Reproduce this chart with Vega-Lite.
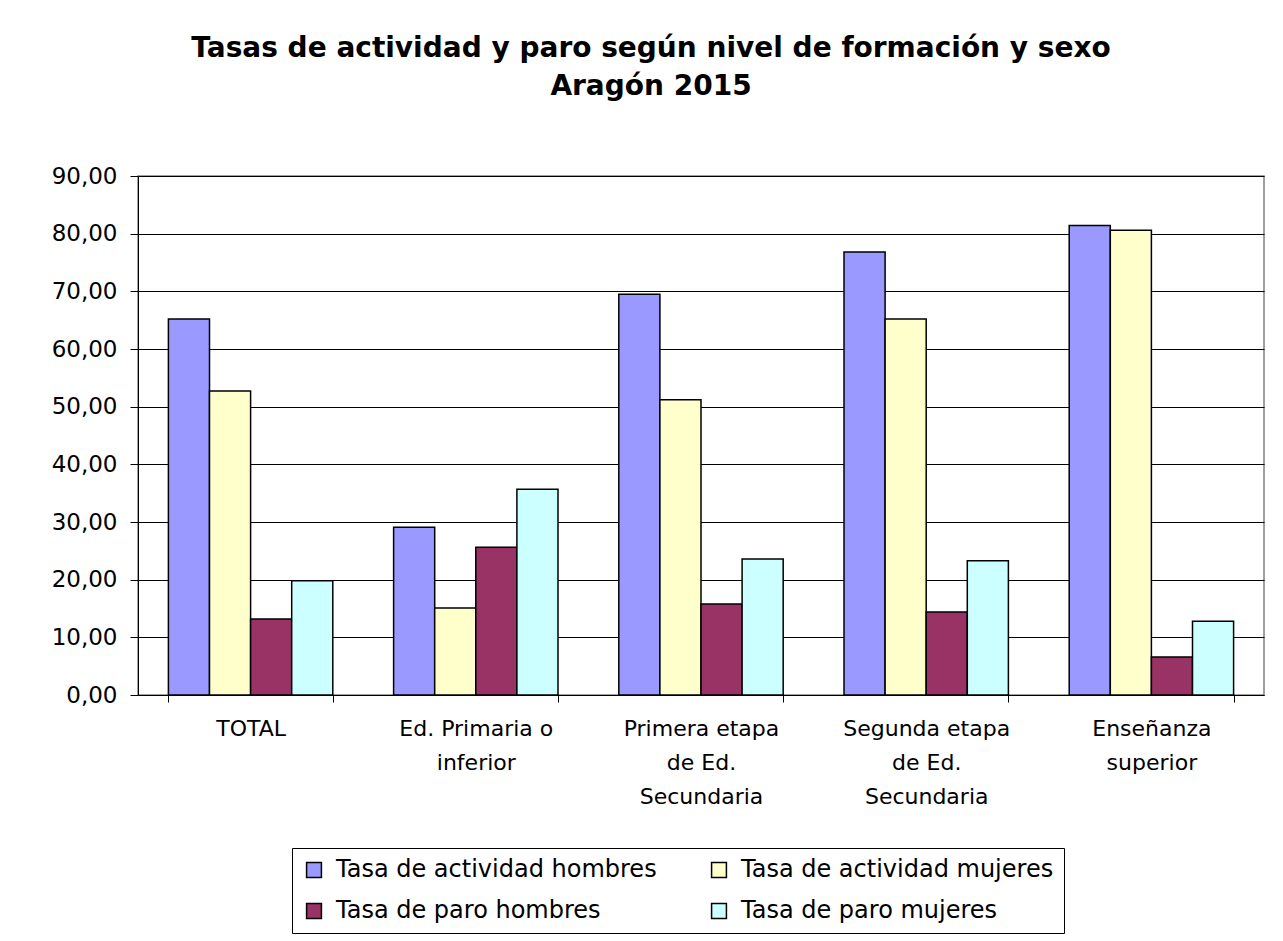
{
  "$schema": "https://vega.github.io/schema/vega-lite/v6.json",
  "autosize": "none",
  "width": 1126,
  "height": 519,
  "padding": {"left": 138, "top": 176, "right": 19, "bottom": 246},
  "background": "white",
  "title": {
    "text": ["Tasas de actividad y paro según nivel de formación y sexo", "Aragón 2015"],
    "font": "DejaVu Sans",
    "fontSize": 28,
    "fontWeight": "bold",
    "color": "black",
    "lineHeight": 38,
    "anchor": "middle",
    "dx": -50,
    "offset": 64
  },
  "data": {
    "values": [
      {"nivel": "TOTAL", "serie": "Tasa de actividad hombres", "valor": 65.2},
      {"nivel": "TOTAL", "serie": "Tasa de actividad mujeres", "valor": 52.7},
      {"nivel": "TOTAL", "serie": "Tasa de paro hombres", "valor": 13.2},
      {"nivel": "TOTAL", "serie": "Tasa de paro mujeres", "valor": 19.8},
      {"nivel": "Ed. Primaria o inferior", "serie": "Tasa de actividad hombres", "valor": 29.1},
      {"nivel": "Ed. Primaria o inferior", "serie": "Tasa de actividad mujeres", "valor": 15.1},
      {"nivel": "Ed. Primaria o inferior", "serie": "Tasa de paro hombres", "valor": 25.6},
      {"nivel": "Ed. Primaria o inferior", "serie": "Tasa de paro mujeres", "valor": 35.7},
      {"nivel": "Primera etapa de Ed. Secundaria", "serie": "Tasa de actividad hombres", "valor": 69.5},
      {"nivel": "Primera etapa de Ed. Secundaria", "serie": "Tasa de actividad mujeres", "valor": 51.2},
      {"nivel": "Primera etapa de Ed. Secundaria", "serie": "Tasa de paro hombres", "valor": 15.8},
      {"nivel": "Primera etapa de Ed. Secundaria", "serie": "Tasa de paro mujeres", "valor": 23.6},
      {"nivel": "Segunda etapa de Ed. Secundaria", "serie": "Tasa de actividad hombres", "valor": 76.8},
      {"nivel": "Segunda etapa de Ed. Secundaria", "serie": "Tasa de actividad mujeres", "valor": 65.2},
      {"nivel": "Segunda etapa de Ed. Secundaria", "serie": "Tasa de paro hombres", "valor": 14.4},
      {"nivel": "Segunda etapa de Ed. Secundaria", "serie": "Tasa de paro mujeres", "valor": 23.3},
      {"nivel": "Enseñanza superior", "serie": "Tasa de actividad hombres", "valor": 81.4},
      {"nivel": "Enseñanza superior", "serie": "Tasa de actividad mujeres", "valor": 80.6},
      {"nivel": "Enseñanza superior", "serie": "Tasa de paro hombres", "valor": 6.6},
      {"nivel": "Enseñanza superior", "serie": "Tasa de paro mujeres", "valor": 12.8}
    ]
  },
  "mark": {"type": "bar", "stroke": "black", "strokeWidth": 1.5},
  "encoding": {
    "x": {
      "field": "nivel",
      "type": "nominal",
      "sort": null,
      "title": null,
      "scale": {"paddingInner": 0.27, "paddingOuter": 0.135},
      "axis": {
        "labelAngle": 0,
        "labelFont": "DejaVu Sans",
        "labelFontSize": 22,
        "labelColor": "black",
        "labelLineHeight": 34,
        "labelPadding": 16,
        "tickSize": 7,
        "tickColor": "black",
        "domainColor": "black",
        "tickBand": "extent",
        "labelExpr": "datum.value == 'Ed. Primaria o inferior' ? ['Ed. Primaria o', 'inferior'] : datum.value == 'Primera etapa de Ed. Secundaria' ? ['Primera etapa', 'de Ed.', 'Secundaria'] : datum.value == 'Segunda etapa de Ed. Secundaria' ? ['Segunda etapa', 'de Ed.', 'Secundaria'] : datum.value == 'Enseñanza superior' ? ['Enseñanza', 'superior'] : datum.value"
      }
    },
    "xOffset": {
      "field": "serie",
      "type": "nominal",
      "sort": ["Tasa de actividad hombres", "Tasa de actividad mujeres", "Tasa de paro hombres", "Tasa de paro mujeres"],
      "scale": {"paddingInner": 0, "paddingOuter": 0}
    },
    "y": {
      "field": "valor",
      "type": "quantitative",
      "title": null,
      "scale": {"domain": [0, 90]},
      "axis": {
        "values": [0, 10, 20, 30, 40, 50, 60, 70, 80, 90],
        "format": ".2f",
        "labelExpr": "replace(datum.label, '.', ',')",
        "labelFont": "DejaVu Sans",
        "labelFontSize": 23,
        "labelColor": "black",
        "labelPadding": 13,
        "tickSize": 8,
        "tickColor": "black",
        "domainColor": "black",
        "grid": true,
        "gridColor": "black",
        "gridWidth": 1
      }
    },
    "color": {
      "field": "serie",
      "type": "nominal",
      "sort": ["Tasa de actividad hombres", "Tasa de actividad mujeres", "Tasa de paro hombres", "Tasa de paro mujeres"],
      "scale": {
        "domain": ["Tasa de actividad hombres", "Tasa de actividad mujeres", "Tasa de paro hombres", "Tasa de paro mujeres"],
        "range": ["#9999FF", "#FFFFCC", "#993366", "#CCFFFF"]
      },
      "legend": {
        "title": null,
        "orient": "none",
        "legendX": 154,
        "legendY": 672,
        "columns": 2,
        "direction": "horizontal",
        "symbolType": "square",
        "symbolSize": 220,
        "symbolStrokeColor": "black",
        "symbolStrokeWidth": 1.5,
        "labelFont": "DejaVu Sans",
        "labelFontSize": 24,
        "labelColor": "black",
        "labelLimit": 420,
        "labelOffset": 10,
        "columnPadding": 50,
        "rowPadding": 17,
        "padding": 10,
        "strokeColor": "black",
        "fillColor": "white"
      }
    }
  },
  "config": {
    "view": {"stroke": "#808080", "strokeWidth": 1.5},
    "axis": {"gridOpacity": 1}
  }
}
